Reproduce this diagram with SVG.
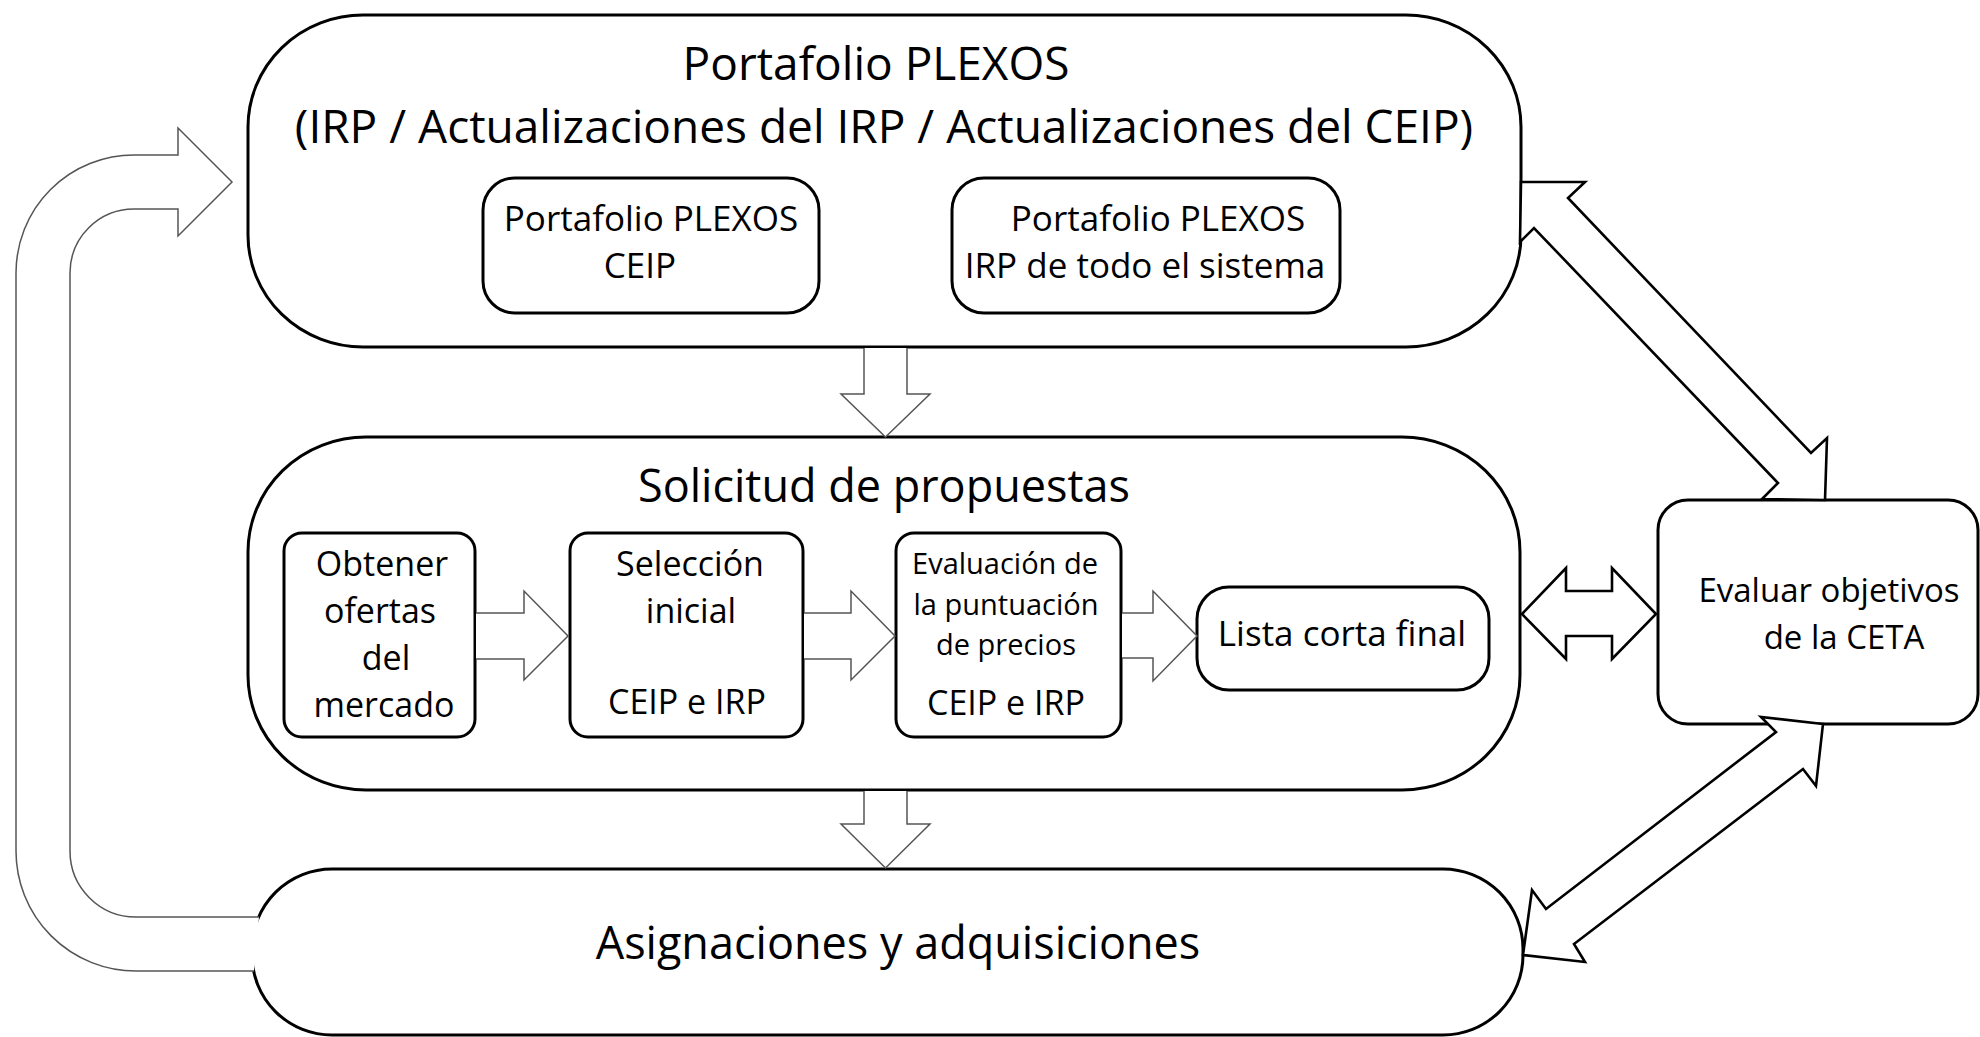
<svg xmlns="http://www.w3.org/2000/svg" width="1980" height="1037" viewBox="0 0 1980 1037">
<style>
  .box { fill: #ffffff; stroke: #000000; stroke-width: 3; }
  .thin { fill: #ffffff; stroke: #555555; stroke-width: 1.5; stroke-linejoin: miter; }
  .thick { fill: #ffffff; stroke: #000000; stroke-width: 2.6; stroke-linejoin: miter; }
  text { font-family: "Open Sans", "Noto Sans", sans-serif; fill: #000000; text-anchor: middle; }
  .t46 { font-size: 46px; }
  .t45 { font-size: 45px; }
  .t35 { font-size: 35px; }
  .t34 { font-size: 34px; }
  .t33 { font-size: 33px; }
  .t29 { font-size: 29px; }
</style>
<rect x="0" y="0" width="1980" height="1037" fill="#ffffff"/>

<g id="node-portafolio">
  <rect class="box" x="248" y="15" width="1273" height="332" rx="115" ry="112"/>
  <text class="t46" x="876" y="80">Portafolio PLEXOS</text>
  <text class="t46" x="884" y="143">(IRP / Actualizaciones del IRP / Actualizaciones del CEIP)</text>
</g>
<g id="node-plexos-ceip">
  <rect class="box" x="483" y="178" width="336" height="135" rx="32" ry="32"/>
  <text class="t35" x="651" y="231">Portafolio PLEXOS</text>
  <text class="t35" x="640" y="278">CEIP</text>
</g>
<g id="node-plexos-irp">
  <rect class="box" x="952" y="178" width="388" height="135" rx="32" ry="32"/>
  <text class="t35" x="1158" y="231">Portafolio PLEXOS</text>
  <text class="t35" x="1145" y="278">IRP de todo el sistema</text>
</g>

<g id="node-solicitud">
  <rect class="box" x="248" y="437" width="1272" height="353" rx="118" ry="115"/>
  <text class="t45" x="884" y="502">Solicitud de propuestas</text>
</g>
<g id="node-obtener">
  <rect class="box" x="284" y="533" width="191" height="204" rx="18" ry="18"/>
  <text class="t34" x="382" y="576">Obtener</text>
  <text class="t34" x="380" y="623">ofertas</text>
  <text class="t34" x="386" y="670">del</text>
  <text class="t34" x="384" y="717">mercado</text>
</g>
<g id="node-seleccion">
  <rect class="box" x="570" y="533" width="233" height="204" rx="18" ry="18"/>
  <text class="t34" x="690" y="576">Selección</text>
  <text class="t34" x="691" y="623">inicial</text>
  <text class="t34" x="687" y="714">CEIP e IRP</text>
</g>
<g id="node-evaluacion">
  <rect class="box" x="896" y="533" width="225" height="204" rx="18" ry="18"/>
  <text class="t29" x="1005" y="574">Evaluación de</text>
  <text class="t29" x="1006" y="615">la puntuación</text>
  <text class="t29" x="1006" y="655">de precios</text>
  <text class="t34" x="1006" y="715">CEIP e IRP</text>
</g>
<g id="node-lista">
  <rect class="box" x="1197" y="587" width="292" height="103" rx="32" ry="32"/>
  <text class="t35" x="1342" y="646">Lista corta final</text>
</g>

<g id="node-evaluar">
  <rect class="box" x="1658" y="500" width="320" height="224" rx="30" ry="30"/>
  <text class="t33" x="1829" y="602">Evaluar objetivos</text>
  <text class="t33" x="1844" y="649">de la CETA</text>
</g>

<g id="node-asignaciones">
  <rect class="box" x="252" y="869" width="1271" height="166" rx="80" ry="80"/>
  <text class="t45" x="898" y="959">Asignaciones y adquisiciones</text>
</g>

<g id="connectors">
  <!-- loop arrow: Asignaciones back to Portafolio -->
  <path class="thin" d="M 254 971 H 136 A 120 120 0 0 1 16 851 V 273 A 118 118 0 0 1 134 155 H 178 V 128 L 232 182 L 178 236 V 209 H 134 A 64 64 0 0 0 70 273 V 851 A 66 66 0 0 0 136 917 H 259"/>
  <!-- top box to Solicitud -->
  <path class="thin" d="M 864 348 V 394 H 841 L 885.5 437 L 930 394 H 907 V 348"/>
  <!-- Solicitud to Asignaciones -->
  <path class="thin" d="M 864 791 V 824 H 841 L 885.5 868 L 930 824 H 907 V 791"/>
  <!-- inner arrows -->
  <path class="thin" d="M 476 613 H 524 V 591 L 568 636 L 524 680 V 659 H 476"/>
  <path class="thin" d="M 804 613 H 851 V 591 L 895 636 L 851 680 V 659 H 804"/>
  <path class="thin" d="M 1122 613 H 1153 V 591 L 1197 636 L 1153 681 V 658 H 1122"/>
  <!-- double arrows to Evaluar -->
  <polygon class="thick" points="1522,614 1566,568 1566,591 1612,591 1612,568 1656,614 1612,659 1612,636 1566,636 1566,659"/>
  <polygon class="thick" points="1521,182 1585,182 1568,198 1811,453 1827,438 1825,500 1762,499 1778,483 1534,228 1520,242"/>
  <polygon class="thick" points="1823,724 1761,717 1776,732 1546,909 1532,890 1523,955 1585,962 1574,944 1803,769 1816,786"/>
</g>
</svg>
